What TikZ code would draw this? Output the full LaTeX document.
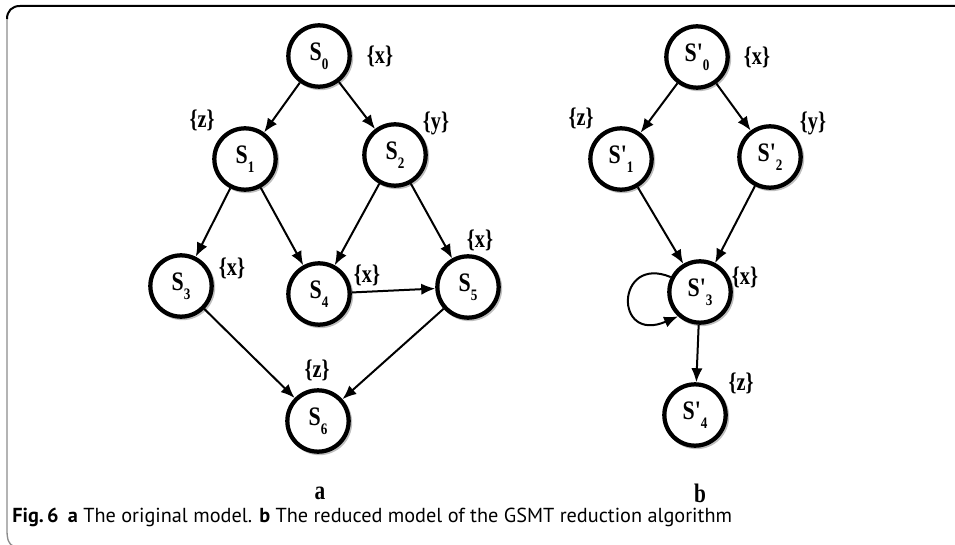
\documentclass[tikz,border=0pt]{standalone}
\usepackage{fontspec}
\setmainfont{Liberation Serif}
\newfontfamily\capfont{PT Sans}
\usetikzlibrary{arrows.meta,calc}

% state labels: bold serif S with a lowered index
\newcommand\stlab[1]{\scalebox{0.82}[1]{\bfseries\fontsize{20}{20}\selectfont S\raisebox{-7pt}{\fontsize{12}{12}\selectfont #1}}}
\newcommand\stplab[1]{\scalebox{0.82}[1]{\bfseries\fontsize{20}{20}\selectfont S\textquotesingle\raisebox{-7pt}{\fontsize{12}{12}\selectfont #1}}}
\newcommand\apset[1]{\scalebox{0.8}[1]{\bfseries\fontsize{19}{19}\selectfont\{#1\}}}

\tikzset{
  state/.style={circle, draw, line width=3.2pt, minimum size=46pt, inner sep=0pt, fill=white},
  shade/.style={circle, fill=black!25, minimum size=49pt, inner sep=0pt},
  prop/.style={inner sep=0pt},
  arr/.style={line width=1.5pt, -{Latex[length=10.5pt,width=8.5pt]}},
  panel/.style={inner sep=0pt, font=\bfseries\fontsize{20}{20}\selectfont},
}

\begin{document}
\begin{tikzpicture}[x=0.75pt, y=-0.75pt]
\useasboundingbox (0,0) rectangle (955,545);

% frame
\draw[black!45, line width=1pt] (7,19) -- (7,530) .. controls (7,540) and (9,544) .. (13,546);
\draw[line width=1.5pt] (955,6) -- (20,6) .. controls (12,6) and (7,11) .. (7,19);

% shadows behind the states
\foreach \px/\py in {319/56, 245/159, 395/155, 181/286, 319/294, 468/287, 318/421,
                     697/57, 621/159, 770/157, 700/292, 695/415}
  \node[shade] at (\px+1.5,\py+1.5) {};

% model a
\node[state] (a0) at (319,56)  {\stlab{0}};
\node[state] (a1) at (245,159) {\stlab{1}};
\node[state] (a2) at (395,155) {\stlab{2}};
\node[state] (a3) at (181,286) {\stlab{3}};
\node[state] (a4) at (319,294) {\stlab{4}};
\node[state] (a5) at (468,287) {\stlab{5}};
\node[state] (a6) at (318,421) {\stlab{6}};

\node[prop] (pa0) at (380,56)  {\apset{x}};
\node[prop] (pa1) at (202,120) {\apset{z}};
\node[prop] (pa2) at (436,123) {\apset{y}};
\node[prop] (pa3) at (232,268) {\apset{x}};
\node[prop] (pa4) at (367,275) {\apset{x}};
\node[prop] (pa5) at (480,240) {\apset{x}};
\node[prop] (pa6) at (317,370) {\apset{z}};

\draw[arr] (a0) -- (a1);
\draw[arr] (a0) -- (a2);
\draw[arr] (a1) -- (a3);
\draw[arr] (a1) -- (a4);
\draw[arr] (a2) -- (a4);
\draw[arr] (a2) -- (a5);
\draw[arr] (a4) -- (a5);
\draw[arr] (a3) -- (a6);
\draw[arr] (a5) -- (a6);

% model b
\node[state] (b0) at (697,57)  {\stplab{0}};
\node[state] (b1) at (621,159) {\stplab{1}};
\node[state] (b2) at (770,157) {\stplab{2}};
\node[state] (b3) at (700,292) {\stplab{3}};
\node[state] (b4) at (695,415) {\stplab{4}};

\node[prop] (pb0) at (757,57)  {\apset{x}};
\node[prop] (pb1) at (581,118) {\apset{z}};
\node[prop] (pb2) at (813,123) {\apset{y}};
\node[prop] (pb3) at (745,277) {\apset{x}};
\node[prop] (pb4) at (741,383) {\apset{z}};

\draw[arr] (b0) -- (b1);
\draw[arr] (b0) -- (b2);
\draw[arr] (b1) -- (b3);
\draw[arr] (b2) -- (b3);
\draw[arr] (b3) -- (b4);
\draw[arr] (b3.153) .. controls ($(b3.153)+(-55,-23)$) and ($(b3.228)+(-65,28)$) .. (b3.228);

% panel letters
\node[panel] (la) at (320,493) {\scalebox{0.8}[1]{a}};
\node[panel] (lb) at (700,493) {\scalebox{0.8}[1]{b}};

% caption
\node[anchor=base west, inner sep=0pt] (cap) at (12,522)
  {\capfont\fontsize{15.2}{15.2}\selectfont\textbf{Fig.\,6}\hspace{0.45em}\textbf{a} The original model. \textbf{b} The reduced model of the GSMT reduction algorithm};
\end{tikzpicture}
\end{document}
